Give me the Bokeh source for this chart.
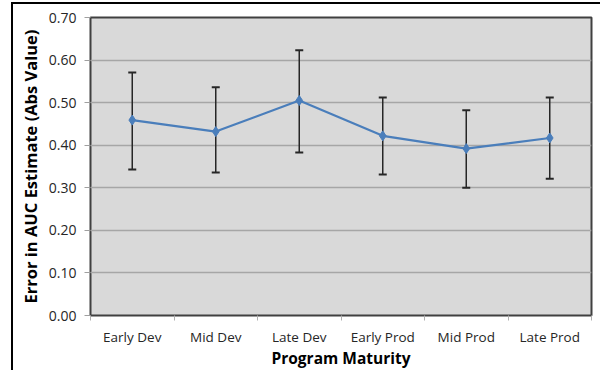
import numpy as np
from bokeh.plotting import figure
from bokeh.models import FixedTicker, NumeralTickFormatter, Range1d, ColumnDataSource, Whisker
from bokeh.embed import file_html
from bokeh.resources import INLINE

# Mean absolute error in the AUC estimate by program maturity, with error bounds
categories = ["Early Dev", "Mid Dev", "Late Dev", "Early Prod", "Mid Prod", "Late Prod"]
mean_error = [0.459, 0.432, 0.505, 0.422, 0.392, 0.417]
upper_bound = [0.571, 0.536, 0.623, 0.512, 0.482, 0.512]
lower_bound = [0.343, 0.336, 0.383, 0.331, 0.300, 0.321]
y_ticks = [0.0, 0.1, 0.2, 0.3, 0.4, 0.5, 0.6, 0.7]

xpos = np.arange(len(categories)) + 0.5
src = ColumnDataSource(dict(x=xpos, y=mean_error, upper=upper_bound, lower=lower_bound))

FONT = "Open Sans"

p = figure(
    frame_width=501, frame_height=298,
    min_border_left=77, min_border_top=13, min_border_right=9, min_border_bottom=50,
    x_range=Range1d(0, len(categories)), y_range=Range1d(0, 0.7),
    output_backend="svg", toolbar_location=None, tools="",
    background_fill_color="#d9d9d9", border_fill_color="white",
)
p.styles = {
    "border-top": "2px solid black",
    "border-left": "2px solid black",
    "margin-left": "11px",
    "margin-top": "2px",
}

p.outline_line_color = "#404040"
p.outline_line_width = 2

# y axis
p.yaxis.ticker = FixedTicker(ticks=y_ticks)
p.yaxis.formatter = NumeralTickFormatter(format="0.00")
p.yaxis.axis_line_color = None
p.yaxis.major_tick_line_color = "#a0a0a0"
p.yaxis.major_tick_out = 6
p.yaxis.major_tick_in = 0
p.yaxis.minor_tick_line_color = None
p.yaxis.major_label_standoff = 8
p.yaxis.major_label_text_font = FONT
p.yaxis.major_label_text_font_size = "14px"
p.yaxis.major_label_text_color = "#262626"
p.yaxis.axis_label = "Error in AUC Estimate (Abs Value)"
p.yaxis.axis_label_text_font = FONT
p.yaxis.axis_label_text_font_style = "bold"
p.yaxis.axis_label_text_font_size = "16.5px"
p.yaxis.axis_label_text_color = "black"
p.yaxis.axis_label_standoff = 4

# x axis: labels at category centres, tick marks between categories
p.xaxis.ticker = FixedTicker(ticks=list(xpos), minor_ticks=list(range(len(categories) + 1)))
p.xaxis.major_label_overrides = {float(x): c for x, c in zip(xpos, categories)}
p.xaxis.axis_line_color = None
p.xaxis.major_tick_line_color = None
p.xaxis.major_tick_out = 0
p.xaxis.major_tick_in = 0
p.xaxis.minor_tick_line_color = "#b0b0b0"
p.xaxis.minor_tick_out = 5
p.xaxis.minor_tick_in = 0
p.xaxis.major_label_standoff = 7
p.xaxis.major_label_text_font = FONT
p.xaxis.major_label_text_font_size = "13.5px"
p.xaxis.major_label_text_color = "#262626"
p.xaxis.axis_label = "Program Maturity"
p.xaxis.axis_label_text_font = FONT
p.xaxis.axis_label_text_font_style = "bold"
p.xaxis.axis_label_text_font_size = "15.5px"
p.xaxis.axis_label_text_color = "black"
p.xaxis.axis_label_standoff = -2

p.xgrid.grid_line_color = None
p.ygrid.ticker = FixedTicker(ticks=y_ticks)
p.ygrid.grid_line_color = "#a6a6a6"
p.ygrid.grid_line_width = 1.5

# error bars
err = Whisker(source=src, base="x", upper="upper", lower="lower", dimension="height",
              line_color="#262626", line_width=1.5)
err.upper_head.size = 8
err.lower_head.size = 8
err.upper_head.line_color = "#262626"
err.lower_head.line_color = "#262626"
err.upper_head.line_width = 2
err.lower_head.line_width = 2
p.add_layout(err)

# mean error series
p.line("x", "y", source=src, line_color="#4a7ebb", line_width=2.2)
p.scatter("x", "y", source=src, marker="diamond", size=10,
          fill_color="#4a7ebb", line_color="#4a7ebb")

open("out.html", "w").write(file_html(p, INLINE))
